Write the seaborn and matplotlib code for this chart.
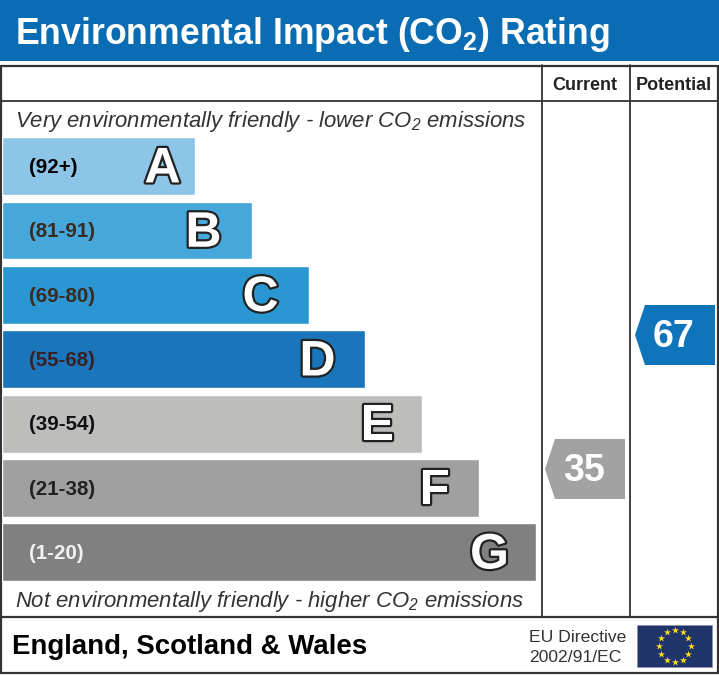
#!/usr/bin/env python3
import numpy as np
import pandas as pd
import matplotlib
matplotlib.use('Agg')
import matplotlib.pyplot as plt
import matplotlib.patheffects as pe
from matplotlib.patches import Polygon, Rectangle
import seaborn as sns

bands = ['A', 'B', 'C', 'D', 'E', 'F', 'G']
ranges = ['(92+)', '(81-91)', '(69-80)', '(55-68)', '(39-54)', '(21-38)', '(1-20)']
bar_lengths = [193, 250, 307, 363, 420, 477, 534]
bar_colors = ['#8cc5e8', '#46a7db', '#2a96d2', '#1a75bb', '#bdbdbb', '#a0a0a0', '#808080']
range_colors = ['#000000', '#3a2a20', '#3a2a20', '#3a2020', '#111111', '#222222', '#f2f2f2']
current_rating = 35
potential_rating = 67

W, H = 719, 675
BLUE = '#0a6cb3'
LINE = '#333333'
# how far each letter sits back from the end of its bar
LETTER_BACK = [32, 48, 48, 47, 44, 44, 46]

sns.set_theme(style='white')
plt.rcParams['font.family'] = ['Liberation Sans', 'DejaVu Sans']
plt.rcParams['mathtext.fontset'] = 'custom'
plt.rcParams['mathtext.rm'] = 'Liberation Sans'
plt.rcParams['mathtext.it'] = 'Liberation Sans:italic'
plt.rcParams['mathtext.bf'] = 'Liberation Sans:bold'


def px(size):
    return size * 0.72


def rating_y(r):
    # rating to pixel row
    return 469 - (r - 35) * 134 / 32


def pointer(ax, x0, x1, r, color):
    y = rating_y(r)
    ax.add_patch(Polygon([(x0, y), (x0 + 10, y - 30), (x1, y - 30), (x1, y + 30), (x0 + 10, y + 30)],
                         closed=True, fc=color, ec='none'))
    ax.text((x0 + x1) / 2 - 1, y + 2, str(r), color='white', fontsize=px(37.5), fontweight='bold',
            ha='center', va='center')


fig = plt.figure(figsize=(W / 100, H / 100), dpi=100, facecolor='white')
ax = fig.add_axes([0, 0, 1, 1])
ax.set_xlim(0, W)
ax.set_ylim(H, 0)
ax.axis('off')

# header
ax.add_patch(Rectangle((0, 0), W, 61, fc=BLUE, ec='none'))
ax.text(15, 34, r'Environmental Impact (CO$_{\mathbf{2}}$) Rating', color='white',
        fontsize=px(35.6), fontweight='bold', va='center')

# frame
ax.add_patch(Rectangle((1, 65.5), W - 2, 607.5, fc='none', ec=LINE, lw=1.6))
ax.plot([1, W - 1], [101, 101], color=LINE, lw=1.3)
ax.plot([1, W - 1], [617, 617], color=LINE, lw=1.6)
ax.plot([542, 542], [65, 617], color=LINE, lw=1.3)
ax.plot([630, 630], [65, 617], color=LINE, lw=1.3)

ax.text(585, 86, 'Current', fontsize=px(18), fontweight='bold', color='#222222', ha='center', va='center')
ax.text(674, 86, 'Potential', fontsize=px(18), fontweight='bold', color='#222222', ha='center', va='center')

ax.text(15, 122, r'Very environmentally friendly - lower CO$_{\mathregular{2}}$ emissions',
        fontsize=px(22.15), style='italic', color='#333333', va='center')
ax.text(15, 602, r'Not environmentally friendly - higher CO$_{\mathregular{2}}$ emissions',
        fontsize=px(22.15), style='italic', color='#333333', va='center')

# rating bars
bar_ax = fig.add_axes([1.5 / W, 1 - 584.5 / H, 539.5 / W, 450.5 / H])
df = pd.DataFrame({'band': bands, 'length': bar_lengths})
sns.barplot(data=df, y='band', x='length', hue='band', palette=bar_colors, legend=False,
            width=0.9, saturation=1, ax=bar_ax)
bar_ax.set_xlim(0, 539.5)
bar_ax.axis('off')
bar_ax.patch.set_alpha(0)

for i, (band, rng, length) in enumerate(zip(bands, ranges, bar_lengths)):
    bar_ax.text(27, i + 0.02, rng, fontsize=px(20.5), fontweight='bold', color=range_colors[i],
                ha='left', va='center')
    bar_ax.text(length - LETTER_BACK[i], i + 0.05, band, fontsize=px(50), fontweight='bold', color='white',
                ha='center', va='center',
                path_effects=[pe.withStroke(linewidth=3.2, foreground='#222222')])

# rating pointers
pointer(ax, 545, 625, current_rating, '#a2a2a2')
pointer(ax, 635, 715, potential_rating, '#1074bb')

# footer
ax.text(12, 647, 'England, Scotland & Wales', fontsize=px(27.6), fontweight='bold', color='black', va='center')
ax.text(529, 638, 'EU Directive', fontsize=px(17.5), color='#333333', va='center')
ax.text(529, 658, '2002/91/EC', fontsize=px(17.5), color='#333333', va='center')

# flag
ax.add_patch(Rectangle((637, 625), 75, 42, fc='#1f3468', ec='#8a93ad', lw=0.5))
angles = np.deg2rad(np.arange(0, 360, 30))
ax.scatter(674.5 + 16 * np.cos(angles), 646 + 16 * np.sin(angles), marker='*', s=28,
           color='#ffdd22', linewidths=0, zorder=3)

fig.savefig('out.png', dpi=100, facecolor='white')
